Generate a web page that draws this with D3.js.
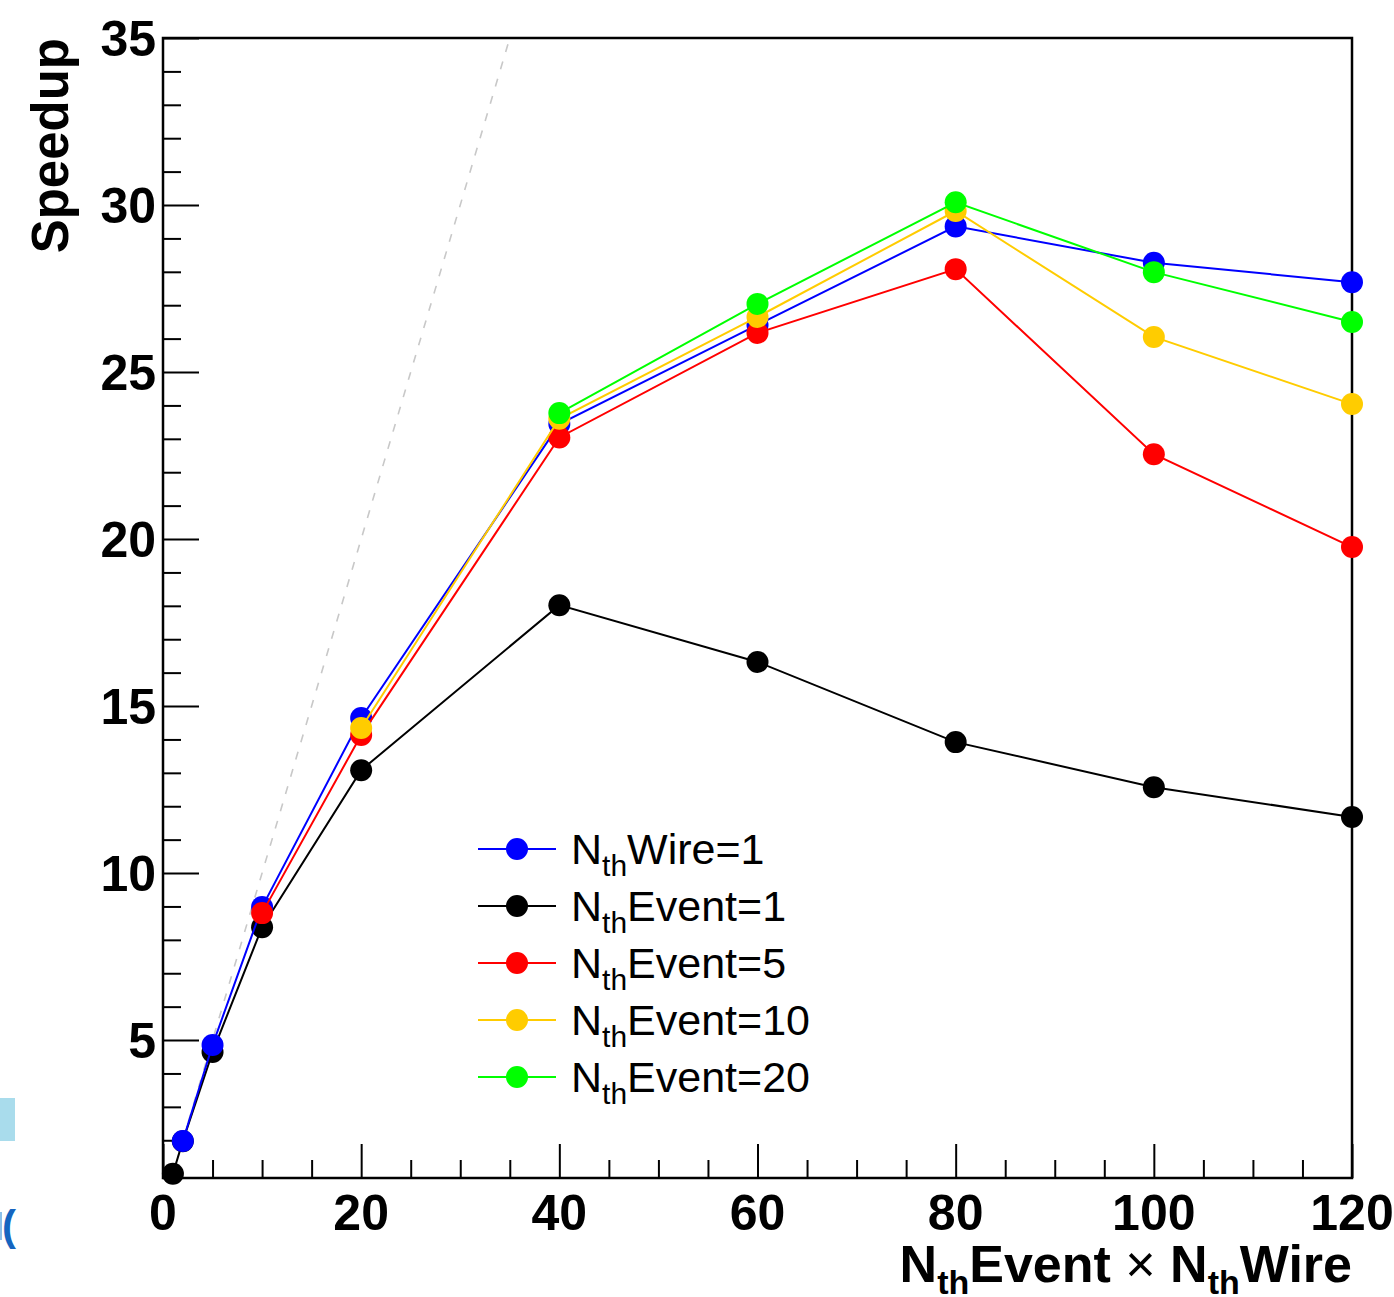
<!DOCTYPE html>
<html>
<head>
<meta charset="utf-8">
<script src="https://cdn.jsdelivr.net/npm/d3@7"></script>
<style>
  html, body { margin: 0; padding: 0; background: #fff; }
  svg { display: block; }
</style>
</head>
<body>
<svg id="chart" width="1394" height="1297"></svg>
<script>
// ---- data ----
const seriesNames = ["NthWire=1", "NthEvent=1", "NthEvent=5", "NthEvent=10", "NthEvent=20"];
const legendMain = ["Wire=1", "Event=1", "Event=5", "Event=10", "Event=20"];
const seriesColors = ["#0000ff", "#000000", "#ff0000", "#ffcc00", "#00ff00"];

const wireX = [2, 5, 10, 20, 40, 60, 80, 100, 120];
const wireY = [1.98, 4.85, 8.98, 14.64, 23.44, 26.41, 29.36, 28.27, 27.69];

const ev1X = [1, 2, 5, 10, 20, 40, 60, 80, 100, 120];
const ev1Y = [1.0, 1.97, 4.64, 8.38, 13.08, 18.02, 16.32, 13.92, 12.57, 11.68];

const ev5X = [10, 20, 40, 60, 80, 100, 120];
const ev5Y = [8.8, 14.13, 23.04, 26.17, 28.08, 22.54, 19.76];

const ev10X = [20, 40, 60, 80, 100, 120];
const ev10Y = [14.34, 23.6, 26.65, 29.82, 26.05, 24.04];

const ev20X = [40, 60, 80, 100, 120];
const ev20Y = [23.77, 27.04, 30.08, 27.99, 26.5];

const idealX = [1, 35];
const idealY = [1, 35];

const xTicksMajor = [0, 20, 40, 60, 80, 100, 120];
const yTicksMajor = [5, 10, 15, 20, 25, 30, 35];

// draw order (bottom to top)
const drawOrder = [1, 0, 2, 3, 4];
const seriesData = [
  wireX.map((x, i) => ({x, y: wireY[i]})),
  ev1X.map((x, i) => ({x, y: ev1Y[i]})),
  ev5X.map((x, i) => ({x, y: ev5Y[i]})),
  ev10X.map((x, i) => ({x, y: ev10Y[i]})),
  ev20X.map((x, i) => ({x, y: ev20Y[i]}))
];

// ---- layout ----
const L = 163, R = 1352, T = 38, B = 1178;
const svg = d3.select("#chart");
const x = d3.scaleLinear().domain([0, 120]).range([L, R]);
const y = d3.scaleLinear().domain([0.87, 35]).range([B, T]);
const font = "Liberation Sans, Arial, Helvetica, sans-serif";

// left cropped artifacts
svg.append("rect").attr("x", 0).attr("y", 1098).attr("width", 15).attr("height", 43).attr("fill", "#a9dcec");
svg.append("rect").attr("x", 0).attr("y", 1212).attr("width", 2).attr("height", 28).attr("fill", "#8cc0ea");
svg.append("text").attr("x", 16).attr("y", 1240).attr("text-anchor", "end")
  .attr("font-family", font).attr("font-weight", "bold")
  .attr("font-size", 42).attr("fill", "#1565c0").text("(");

const clip = svg.append("defs").append("clipPath").attr("id", "plotclip");
clip.append("rect").attr("x", L).attr("y", T).attr("width", R - L).attr("height", B - T);

// ideal line
svg.append("path")
  .attr("clip-path", "url(#plotclip)")
  .attr("d", d3.line().x(d => x(d[0])).y(d => y(d[1]))(idealX.map((v, i) => [v, idealY[i]])))
  .attr("fill", "none").attr("stroke", "#c8c8c8").attr("stroke-width", 1.6)
  .attr("stroke-dasharray", "8,10");

// axes
const xMinor = d3.range(0, 121, 5).filter(v => v % 20 !== 0);
const yMinor = d3.range(1, 35).filter(v => v % 5 !== 0);

function ticks(axis, tr) {
  svg.append("g").attr("transform", tr).call(axis)
    .call(g => g.select(".domain").remove())
    .call(g => g.selectAll("line").attr("stroke", "#000").attr("stroke-width", 2));
}
ticks(d3.axisBottom(x).tickValues(xTicksMajor).tickSize(-34).tickSizeOuter(0).tickFormat(""), `translate(0,${B})`);
ticks(d3.axisBottom(x).tickValues(xMinor).tickSize(-18).tickSizeOuter(0).tickFormat(""), `translate(0,${B})`);
ticks(d3.axisLeft(y).tickValues(yTicksMajor).tickSize(-36).tickSizeOuter(0).tickFormat(""), `translate(${L},0)`);
ticks(d3.axisLeft(y).tickValues(yMinor).tickSize(-18).tickSizeOuter(0).tickFormat(""), `translate(${L},0)`);

// frame
svg.append("rect").attr("x", L).attr("y", T).attr("width", R - L).attr("height", B - T)
  .attr("fill", "none").attr("stroke", "#000").attr("stroke-width", 2.5);

// tick labels
svg.append("g").selectAll("text").data(xTicksMajor).join("text")
  .attr("x", d => x(d)).attr("y", 1230)
  .attr("text-anchor", "middle").attr("font-family", font).attr("font-weight", "bold")
  .attr("font-size", 50).text(d => d);
svg.append("g").selectAll("text").data(yTicksMajor).join("text")
  .attr("x", 156).attr("y", d => y(d) + 18)
  .attr("text-anchor", "end").attr("font-family", font).attr("font-weight", "bold")
  .attr("font-size", 50).text(d => d);

// axis titles
svg.append("text").attr("transform", "translate(68,38) rotate(-90)")
  .attr("text-anchor", "end").attr("font-family", font).attr("font-weight", "bold")
  .attr("font-size", 51).text("Speedup");

const xt = svg.append("text").attr("x", R).attr("y", 1282).attr("text-anchor", "end")
  .attr("font-family", font).attr("font-weight", "bold").attr("font-size", 52);
xt.append("tspan").text("N");
xt.append("tspan").attr("font-size", 34).attr("dy", 12).text("th");
xt.append("tspan").attr("dy", -12).text("Event ");
xt.append("tspan").attr("font-weight", "normal").text("×");
xt.append("tspan").text(" N");
xt.append("tspan").attr("font-size", 34).attr("dy", 12).text("th");
xt.append("tspan").attr("dy", -12).text("Wire");

// series
const line = d3.line().x(d => x(d.x)).y(d => y(d.y));
drawOrder.forEach(si => {
  const g = svg.append("g");
  g.append("path").attr("d", line(seriesData[si]))
    .attr("fill", "none").attr("stroke", seriesColors[si]).attr("stroke-width", 2);
  g.selectAll("circle").data(seriesData[si]).join("circle")
    .attr("cx", d => x(d.x)).attr("cy", d => y(d.y)).attr("r", 11)
    .attr("fill", seriesColors[si]);
});

// legend
const lg = svg.append("g");
seriesNames.forEach((name, i) => {
  const cy = 849 + 57 * i;
  lg.append("line").attr("x1", 478).attr("x2", 556).attr("y1", cy).attr("y2", cy)
    .attr("stroke", seriesColors[i]).attr("stroke-width", 2);
  lg.append("circle").attr("cx", 517).attr("cy", cy).attr("r", 11).attr("fill", seriesColors[i]);
  const t = lg.append("text").attr("x", 571).attr("y", cy + 15)
    .attr("font-family", font).attr("font-size", 43);
  t.append("tspan").text("N");
  t.append("tspan").attr("font-size", 30).attr("dy", 12).text("th");
  t.append("tspan").attr("dy", -12).text(legendMain[i]);
});
</script>
</body>
</html>
